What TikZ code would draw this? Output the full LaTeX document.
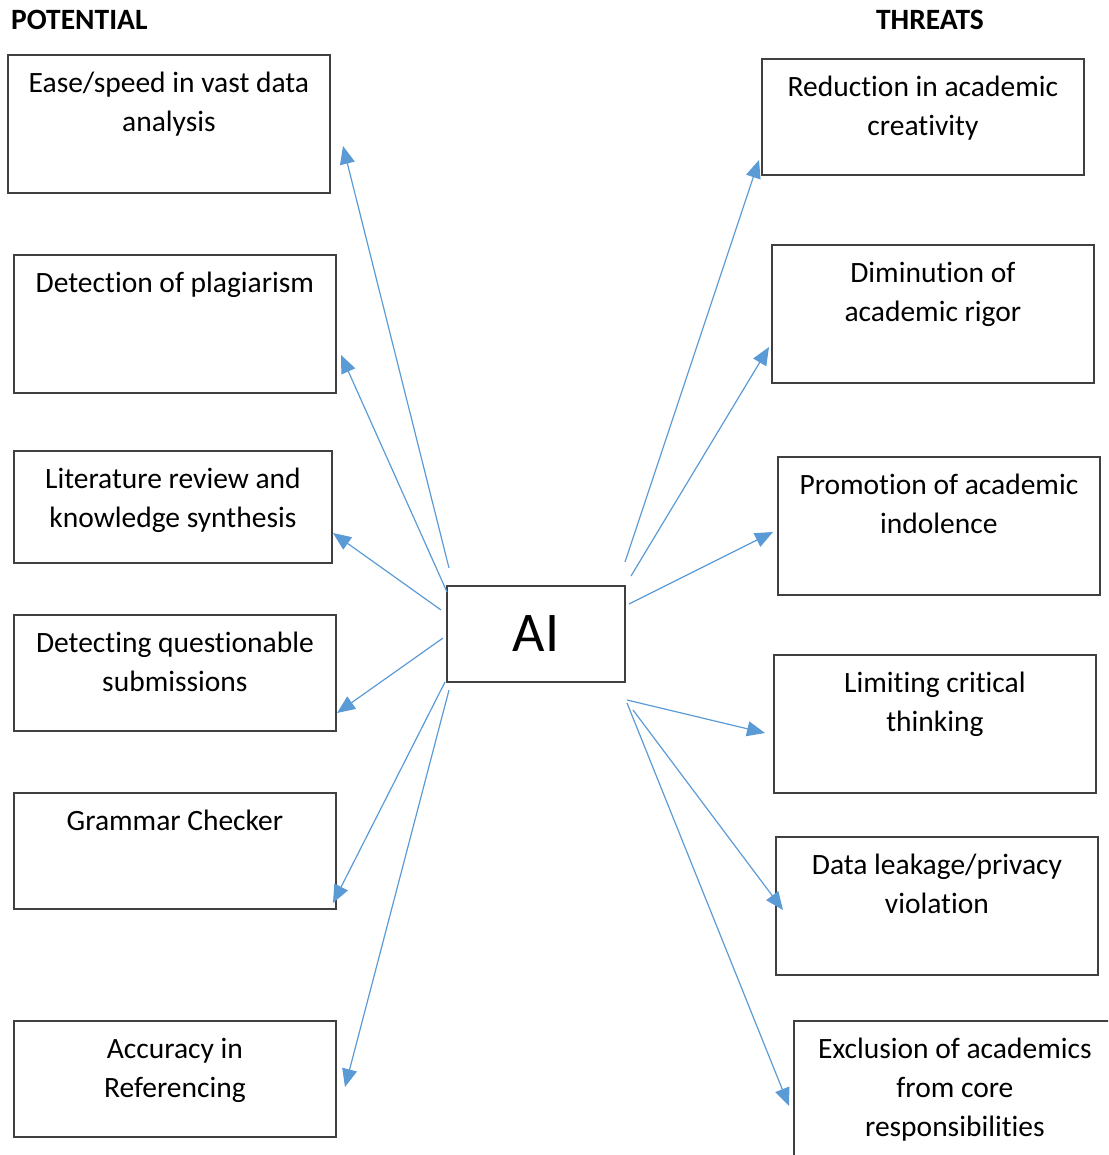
\documentclass[tikz,border=0pt]{standalone}
\usepackage{fontspec}
\setmainfont{Carlito}[Ligatures=NoCommon]
\usetikzlibrary{arrows.meta}
\definecolor{linkblue}{RGB}{91,155,213}
\tikzset{
  box/.style={draw=black!75, line width=1.8pt, minimum width=322pt, inner sep=0pt,
    align=center, anchor=north west, font=\fontsize{29.5}{39}\selectfont},
  oneline/.style={text height=38pt},
  twolines/.style={text height=77pt},
  threelines/.style={text height=116pt},
  head/.style={inner sep=0pt, font=\fontsize{29.5}{34}\selectfont\bfseries},
  link/.style={draw=linkblue, line width=1.2pt, -{Triangle[length=18pt,width=15pt]}},
}
\begin{document}
\begin{tikzpicture}[x=1pt,y=-1pt]
\useasboundingbox (0,0) rectangle (1108,1155);
\clip (0,0) rectangle (1108,1155);

% headings
\node[head, anchor=west] (pot) at (11,20) {POTENTIAL};
\node[head] (thr) at (930,20) {THREATS};

% potential side
\node[box, twolines, text depth=61pt] (ease) at (7,54) {Ease/speed in vast data\\analysis};
\node[box, oneline, text depth=100pt] (plag) at (13,254) {Detection of plagiarism};
\node[box, twolines, text depth=35pt, minimum width=318pt] (lit) at (13,450) {Literature review and\\knowledge synthesis};
\node[box, twolines, text depth=39pt] (quest) at (13,614) {Detecting questionable\\submissions};
\node[box, oneline, text depth=78pt] (gram) at (13,792) {Grammar Checker};
\node[box, twolines, text depth=39pt] (acc) at (13,1020) {Accuracy in\\Referencing};

% threats side
\node[box, twolines, text depth=39pt] (creat) at (761,58) {Reduction in academic\\creativity};
\node[box, twolines, text depth=61pt] (rigor) at (771,244) {Diminution of\\academic rigor};
\node[box, twolines, text depth=61pt] (indol) at (777,456) {Promotion of academic\\indolence};
\node[box, twolines, text depth=61pt] (crit) at (773,654) {Limiting critical\\thinking};
\node[box, twolines, text depth=61pt] (leak) at (775,836) {Data leakage/privacy\\violation};
\node[box, threelines, text depth=44pt] (excl) at (793,1020) {Exclusion of academics\\from core\\responsibilities};

% centre
\node[box, anchor=center, minimum width=178pt, minimum height=96pt,
  font=\fontsize{56}{60}\selectfont] (ai) at (536,634) {AI};

% arrow ends
\coordinate (p1s) at (449,568); \coordinate (p1e) at (343,146);
\coordinate (p2s) at (447,592); \coordinate (p2e) at (341,355);
\coordinate (p3s) at (441,610); \coordinate (p3e) at (333,533);
\coordinate (p4s) at (443,638); \coordinate (p4e) at (337,713);
\coordinate (p5s) at (445,682); \coordinate (p5e) at (333,903);
\coordinate (p6s) at (449,690); \coordinate (p6e) at (345,1087);
\coordinate (t1s) at (625,562); \coordinate (t1e) at (759,160);
\coordinate (t2s) at (631,576); \coordinate (t2e) at (769,347);
\coordinate (t3s) at (629,604); \coordinate (t3e) at (773,532);
\coordinate (t4s) at (627,700); \coordinate (t4e) at (765,733);
\coordinate (t5s) at (633,710); \coordinate (t5e) at (783,910);
\coordinate (t6s) at (627,703); \coordinate (t6e) at (789,1106);

\draw[link] (p1s) -- (p1e);
\draw[link] (p2s) -- (p2e);
\draw[link] (p3s) -- (p3e);
\draw[link] (p4s) -- (p4e);
\draw[link] (p5s) -- (p5e);
\draw[link] (p6s) -- (p6e);
\draw[link] (t1s) -- (t1e);
\draw[link] (t2s) -- (t2e);
\draw[link] (t3s) -- (t3e);
\draw[link] (t4s) -- (t4e);
\draw[link] (t5s) -- (t5e);
\draw[link] (t6s) -- (t6e);
\end{tikzpicture}
\end{document}
